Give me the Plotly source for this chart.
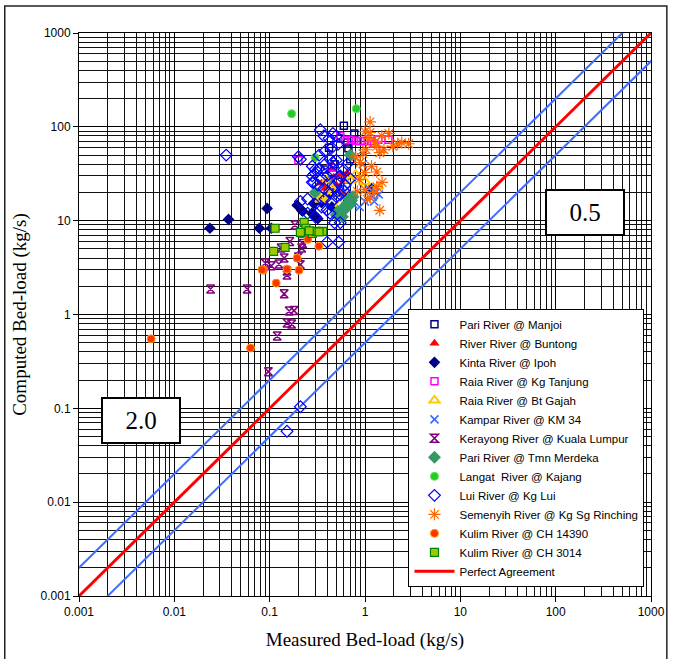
import plotly.graph_objects as go

# ---------------- data ----------------
pari_manjoi_x = [0.60, 0.77, 0.67, 0.42, 0.55, 0.48, 0.62, 0.50, 0.70, 0.38, 0.65, 0.52]
pari_manjoi_y = [103, 85, 59, 60, 75, 40, 30, 20, 45, 35, 68, 26]

buntong_x = [0.35, 0.47, 0.55, 0.60, 0.50, 0.42, 0.65, 0.45, 0.38, 0.58]
buntong_y = [25, 29, 31, 26, 24, 28, 32, 35, 22, 20]

kinta_x = [0.0236, 0.037, 0.078, 0.094, 0.104, 0.194, 0.222, 0.29, 0.285, 0.217, 0.277, 0.35, 0.40, 0.71, 1.17, 0.32, 0.45]
kinta_y = [8.3, 10.3, 8.3, 13.5, 8.3, 14.6, 12.6, 15.3, 11.7, 12.9, 12.0, 15.6, 18, 16, 22, 10.5, 14]

raia_tanjung_x = [0.71, 0.80, 0.90, 1.0, 1.15, 1.38, 1.76, 0.20, 0.44, 0.62, 0.55, 1.25]
raia_tanjung_y = [73, 71, 70, 71, 70, 73, 73, 44, 37, 72, 80, 66]

raia_gajah_x = [0.34, 0.37, 0.42, 0.40, 0.65, 0.70, 1.0, 1.37, 0.45, 0.55, 0.30, 0.80]
raia_gajah_y = [16.8, 17.5, 18, 27, 18, 27, 26, 23, 22, 15, 19.5, 31]

kampar_x = [0.88, 1.2, 1.3, 1.0, 0.75, 0.55, 1.1, 1.25, 0.65, 1.4, 0.95, 0.45]
kampar_y = [14, 18, 20, 16, 15, 20, 22, 16, 22, 19, 40, 27]

kerayong_x = [0.024, 0.058, 0.097, 0.12, 0.152, 0.17, 0.16, 0.18, 0.142, 0.152, 0.152, 0.09,
              0.104, 0.125, 0.142, 0.2, 0.217, 0.222, 0.163, 0.184, 0.217, 0.132, 0.21]
kerayong_y = [1.87, 1.87, 0.246, 0.59, 0.81, 0.79, 1.09, 1.1, 1.66, 2.63, 2.9, 3.53,
              3.3, 3.45, 4.0, 4.1, 5.1, 5.7, 6.0, 9.0, 7.4, 5.1, 3.4]

merdeka_x = [0.55, 0.60, 0.65, 0.70, 0.72, 0.58, 0.50, 0.68, 0.70, 0.30, 0.62, 0.75, 0.52]
merdeka_y = [12, 13, 14, 15, 16.5, 11, 11.5, 17, 50, 20, 14.5, 18, 12.5]

langat_x = [0.17, 0.81, 0.30]
langat_y = [138, 156, 47]

lui_x = [0.035, 0.2, 0.21, 0.34, 0.37, 0.42, 0.46, 0.5, 0.28, 0.3, 0.33, 0.38, 0.43, 0.46, 0.5,
         0.3, 0.35, 0.4, 0.45, 0.28, 0.32, 0.37, 0.42, 0.47, 0.52, 0.55, 0.6, 0.21, 0.25, 0.3,
         0.35, 0.4, 0.45, 0.5, 0.55, 0.6, 0.48, 0.55, 0.4, 0.53, 0.29, 0.21, 0.152, 0.25, 0.3,
         0.28, 0.38, 0.45, 0.52, 0.33, 0.62, 0.65, 0.7, 0.38, 0.43]
lui_y = [50, 48, 45, 93, 80, 75, 85, 80, 38, 35, 36, 40, 45, 42, 44,
         32, 28, 30, 33, 25.6, 24, 22, 20, 23, 26, 30, 35, 16, 17, 15,
         14, 13, 16, 18, 19, 21, 9.5, 9.5, 5.9, 5.9, 25.6, 0.104, 0.057, 12, 11,
         30, 55, 60, 65, 50, 24, 40, 28, 17, 12]

semenyih_x = [1.13, 1.13, 1.1, 1.78, 2.43, 2.87, 1.96, 1.58, 1.43, 1.03, 1.29, 1.17, 1.51, 1.24,
              1.13, 1.0, 0.87, 0.89, 1.33, 0.99, 1.06, 0.83, 1.33, 1.43, 1.33, 1.5, 1.0, 2.2, 0.8, 0.95]
semenyih_y = [113, 87, 75, 85, 68, 66, 62, 57, 53, 57, 70, 38, 25.6, 20,
              17.7, 21.5, 27.5, 41.7, 33, 32.6, 16.9, 20.5, 23, 12.9, 62, 80, 89, 66, 48, 52]

kulim14390_x = [0.0057, 0.063, 0.117, 0.086, 0.152, 0.194, 0.203, 0.252, 0.328, 0.083]
kulim14390_y = [0.55, 0.44, 2.16, 2.97, 3.05, 4.0, 2.97, 6.35, 5.35, 3.0]

kulim3014_x = [0.114, 0.11, 0.145, 0.23, 0.24, 0.21, 0.28, 0.31, 0.36, 0.33, 0.26]
kulim3014_y = [8.3, 4.7, 5.2, 9.6, 8.3, 7.5, 7.3, 7.7, 7.7, 7.6, 7.8]

line_x = [0.001, 1000]
perfect_y = [0.001, 1000]
upper_x = [0.0005, 1000]
upper_y = [0.001, 2000]
lower_x = [0.001, 2000]
lower_y = [0.0005, 1000]

tick_vals = [0.001, 0.01, 0.1, 1, 10, 100, 1000]
tick_text = ["0.001", "0.01", "0.1", "1", "10", "100", "1000"]
minor_vals = [d * 10 ** e for e in range(-3, 3) for d in range(2, 10)]

# ---------------- figure ----------------
fig = go.Figure()

def add(name, x, y, symbol, color, size=8, line_color=None, line_width=1.5):
    fig.add_trace(go.Scatter(
        x=x, y=y, mode="markers", name=name,
        marker=dict(symbol=symbol, color=color, size=size,
                    line=dict(color=line_color or color, width=line_width)),
    ))

# blue 2x / 0.5x lines (not in legend)
fig.add_trace(go.Scatter(x=upper_x, y=upper_y, mode="lines", showlegend=False,
                         line=dict(color="#3F6FFF", width=2), hoverinfo="skip"))
fig.add_trace(go.Scatter(x=lower_x, y=lower_y, mode="lines", showlegend=False,
                         line=dict(color="#3F6FFF", width=2), hoverinfo="skip"))

add("Pari River @ Manjoi", pari_manjoi_x, pari_manjoi_y, "square-open", "#000080", 7)
add("River River @ Buntong", buntong_x, buntong_y, "triangle-up", "#FF0000", 9, line_width=0)
add("Kinta River @ Ipoh", kinta_x, kinta_y, "diamond", "#000080", 9, line_width=0)
add("Raia River @ Kg Tanjung", raia_tanjung_x, raia_tanjung_y, "square-open", "#FF00FF", 7)
add("Raia River @ Bt Gajah", raia_gajah_x, raia_gajah_y, "triangle-up-open", "#FFCC00", 9, line_width=2)
add("Kampar River @ KM 34", kampar_x, kampar_y, "x-thin-open", "#3366FF", 8, line_width=1.5)
add("Kerayong River @ Kuala Lumpur", kerayong_x, kerayong_y, "hourglass-open", "#800080", 8, line_width=1.5)
add("Pari River @ Tmn Merdeka", merdeka_x, merdeka_y, "diamond", "#339966", 10, line_width=0)
add("Langat  River @ Kajang", langat_x, langat_y, "circle", "#22CC22", 8, line_color="#66DD66", line_width=1)
add("Lui River @ Kg Lui", lui_x, lui_y, "diamond-open", "#0000FF", 9, line_width=1.2)
add("Semenyih River @ Kg Sg Rinching", semenyih_x, semenyih_y, "asterisk-open", "#FF6600", 10, line_width=1.2)
add("Kulim River @ CH 14390", kulim14390_x, kulim14390_y, "circle", "#FF3300", 8, line_color="#FF9900", line_width=1)
add("Kulim River @ CH 3014", kulim3014_x, kulim3014_y, "square", "#99CC00", 8, line_color="#008000", line_width=1.2)

fig.add_trace(go.Scatter(x=line_x, y=perfect_y, mode="lines", name="Perfect Agreement",
                         line=dict(color="#FF0000", width=3)))

axis_common = dict(
    type="log", range=[-3, 3],
    tickmode="array", tickvals=tick_vals, ticktext=tick_text,
    showgrid=True, gridcolor="#000000", gridwidth=1,
    minor=dict(tickmode="array", tickvals=minor_vals, showgrid=True,
               gridcolor="#111111", gridwidth=1, ticks=""),
    showline=True, linecolor="#000000", linewidth=1, mirror=True,
    ticks="outside", ticklen=5, tickcolor="#000000",
    tickfont=dict(family="Liberation Sans, Arial", size=12, color="#000000"),
    zeroline=False,
)

fig.update_xaxes(**axis_common,
                 title=dict(text="Measured Bed-load (kg/s)", standoff=14,
                            font=dict(family="Liberation Serif, Times New Roman", size=19, color="#000000")))
fig.update_yaxes(**axis_common,
                 title=dict(text="Computed Bed-load (kg/s)", standoff=8,
                            font=dict(family="Liberation Serif, Times New Roman", size=19, color="#000000")))

fig.update_layout(
    width=677, height=659,
    margin=dict(l=79, r=20, t=33, b=61),
    paper_bgcolor="white", plot_bgcolor="white",
    showlegend=True,
    legend=dict(
        x=0.576, y=0.510, xanchor="left", yanchor="top",
        bgcolor="white", bordercolor="#000000", borderwidth=1,
        font=dict(family="Liberation Sans, Arial", size=11.5, color="#000000"),
        tracegroupgap=0, itemwidth=40,
    ),
    annotations=[
        dict(text="0.5", xref="paper", yref="paper", x=0.884, y=0.681,
             xanchor="center", yanchor="middle",
             showarrow=False, bgcolor="white", bordercolor="#000000", borderwidth=2,
             borderpad=0, width=76, height=43,
             font=dict(family="Liberation Serif, Times New Roman", size=25, color="#000000")),
        dict(text="2.0", xref="paper", yref="paper", x=0.108, y=0.312,
             xanchor="center", yanchor="middle",
             showarrow=False, bgcolor="white", bordercolor="#000000", borderwidth=2,
             borderpad=0, width=76, height=43,
             font=dict(family="Liberation Serif, Times New Roman", size=25, color="#000000")),
    ],
    shapes=[
        dict(type="rect", xref="paper", yref="paper",
             x0=-0.1298, x1=1.0277, y0=-0.12, y1=1.0478,
             line=dict(color="#222222", width=1.5), layer="below"),
    ],
)

fig.write_html("out.html")
